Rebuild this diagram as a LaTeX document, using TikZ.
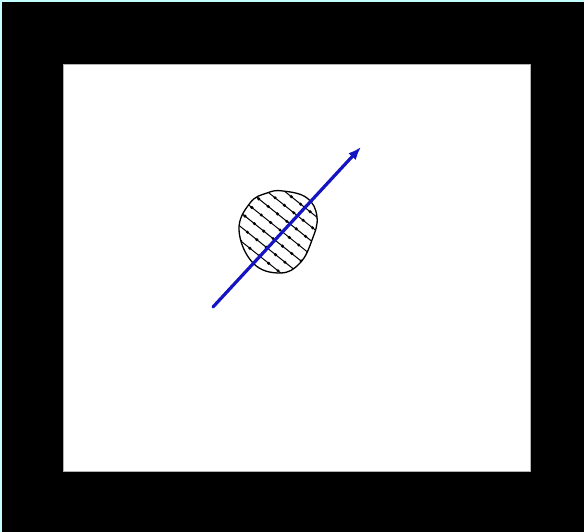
\documentclass[tikz,border=0pt]{standalone}
\usepackage{tikz}
\usetikzlibrary{arrows.meta}
\definecolor{framecyan}{RGB}{196,255,255}
\definecolor{fieldblue}{RGB}{20,20,195}
\tikzset{
  blob/.style={draw=black, line width=1.3pt},
  hatch/.style={black, line width=1pt},
  fieldarrow/.style={fieldblue, line width=3.2pt, line cap=round, -{Latex[length=13pt,width=10pt]}},
}
\begin{document}
\begin{tikzpicture}[x=1pt, y=-1pt]
  \useasboundingbox (0,0) rectangle (584,532);
  % --- cadre ---
  \fill[black] (0,0) rectangle (590,540);
  \fill[framecyan] (0,0) rectangle (590,2);
  \fill[framecyan] (0,0) rectangle (2,540);
  \filldraw[fill=white, draw=gray!60, line width=0.8pt] (63,64) rectangle (530,471);
  % --- objet hachure ---
  \begin{scope}
    \clip plot[smooth cycle, tension=0.7] coordinates {(283,191) (307,198) (317,217) (312,240) (300,263) (280,273) (253,263) (239,230) (250,203) (267,193)};
    \foreach \k in {-4,...,4} {
      \begin{scope}[shift={(280+6.9*\k, 230-8.6*\k)}]
        \draw[hatch] (-62.5,-50) -- (62.5,50);
        \foreach \j in {-5,...,5}
          \fill (\j*9.37, \j*7.5) circle (1.7);
      \end{scope}
    }
  \end{scope}
  \draw[blob] plot[smooth cycle, tension=0.7] coordinates {(283,191) (307,198) (317,217) (312,240) (300,263) (280,273) (253,263) (239,230) (250,203) (267,193)};
  % --- fleche ---
  \coordinate (tail) at (213,307);
  \coordinate (head) at (361,147);
  \draw[fieldarrow] (tail) -- (head);
\end{tikzpicture}
\end{document}
